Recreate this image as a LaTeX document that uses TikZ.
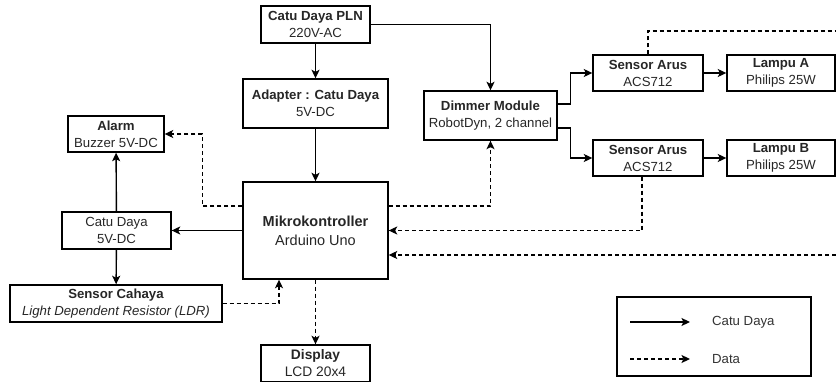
\documentclass[tikz,border=0pt]{standalone}
\usepackage{fontspec}
\setmainfont{Liberation Sans}
\usetikzlibrary{arrows.meta}

\begin{document}
\begin{tikzpicture}[
    x=1pt, y=-1pt,
    >={Stealth[length=8.5pt,width=8pt,inset=2pt]},
    block/.style={rectangle,draw=black,line width=1.4pt,inner sep=0pt,align=center,
        font=\fontsize{13.2}{17}\selectfont,text=black!85},
    power/.style={->,line width=1.4pt},
    data/.style={->,line width=1.3pt,dash pattern=on 4pt off 3pt},
    legend/.style={rectangle,draw=black,line width=1.4pt,inner sep=0pt},
    label/.style={anchor=west,inner sep=0pt,font=\fontsize{13.2}{17}\selectfont,text=black!80},
]
\useasboundingbox (0,0) rectangle (836,382);

% power supply chain
\node[block,minimum width=109pt,minimum height=37pt] (pln) at (315.5,24.5) {\textbf{Catu Daya PLN}\\220V-AC};
\node[block,minimum width=145pt,minimum height=49pt] (adapter) at (315.5,103.5) {\textbf{Adapter : Catu Daya}\\5V-DC};
\node[block,minimum width=145pt,minimum height=97pt,font=\fontsize{14.5}{19}\selectfont] (mikro) at (315.5,230.5) {\textbf{Mikrokontroller}\\Arduino Uno};
\node[block,minimum width=109pt,minimum height=37pt,font=\fontsize{13.8}{17}\selectfont] (display) at (315.5,363.5) {\textbf{Display}\\LCD 20x4};
% left side
\node[block,minimum width=96pt,minimum height=36pt] (alarm) at (116,134) {\textbf{Alarm}\\Buzzer 5V-DC};
\node[block,minimum width=109pt,minimum height=37pt] (catu) at (116.5,230.5) {Catu Daya\\5V-DC};
\node[block,minimum width=212pt,minimum height=37pt] (ldr) at (116,303.5) {\textbf{Sensor Cahaya}\\\textit{Light Dependent Resistor (LDR)}};
% dimmer and loads
\node[block,minimum width=133pt,minimum height=49pt] (dimmer) at (490.5,115.5) {\textbf{Dimmer Module}\\RobotDyn, 2 channel};
\node[block,minimum width=110pt,minimum height=36pt] (arusA) at (648,73) {\textbf{Sensor Arus}\\ACS712};
\node[block,minimum width=108pt,minimum height=36pt] (lampuA) at (781,73) {\textbf{Lampu A}\\Philips 25W};
\node[block,minimum width=110pt,minimum height=36pt] (arusB) at (648,158) {\textbf{Sensor Arus}\\ACS712};
\node[block,minimum width=108pt,minimum height=36pt] (lampuB) at (781,158) {\textbf{Lampu B}\\Philips 25W};

% power lines
\draw[power] (pln) -- (adapter);
\draw[power] (adapter) -- (mikro);
\draw[power] (pln.east) -| (dimmer.north);
\draw[power] ([yshift=11.5pt]dimmer.east) -- ++(13pt,0) |- (arusA.west);
\draw[power] ([yshift=-12.5pt]dimmer.east) -- ++(13pt,0) |- (arusB.west);
\draw[power] (arusA) -- (lampuA);
\draw[power] (arusB) -- (lampuB);
\draw[power] (mikro) -- (catu);
\draw[power] (catu) -- (alarm);
\draw[power] (catu) -- (ldr);

% data lines
\coordinate (edgeA) at (836,31);
\coordinate (edgeB) at (836,255);
\draw[data] ([yshift=24.5pt]mikro.west) -- ++(-40pt,0) |- (alarm.east);
\draw[data] ([yshift=24.5pt]mikro.east) -| (dimmer.south);
\draw[data] (ldr.east) -| ([xshift=-36.5pt]mikro.south);
\draw[data] (mikro) -- (display);
\draw[data] ([xshift=-6pt]arusB.south) |- (mikro.east);
\draw[data,-] (arusA.north) |- (edgeA);
\draw[data] (edgeB) -- ([yshift=-24.5pt]mikro.east);

% legend
\node[legend,minimum width=194pt,minimum height=79pt] (key) at (714,336.5) {};
\coordinate (keyA) at (630,322);
\coordinate (keyB) at (630,359);
\node[label] (lgPower) at (712,322) {Catu Daya};
\node[label] (lgData) at (712,359) {Data};
\draw[power,line width=1.2pt] (keyA) -- ++(60pt,0);
\draw[data,line width=1.2pt] (keyB) -- ++(60pt,0);

\end{tikzpicture}
\end{document}
